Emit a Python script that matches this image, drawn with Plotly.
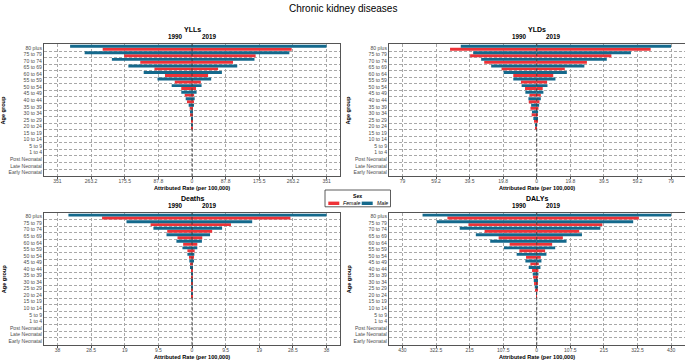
import plotly.graph_objects as go

# ---------------- data (age groups listed top -> bottom) ----------------
age_groups = ["80 plus", "75 to 79", "70 to 74", "65 to 69", "60 to 64", "55 to 59",
              "50 to 54", "45 to 49", "40 to 44", "35 to 39", "30 to 34", "25 to 29",
              "20 to 24", "15 to 19", "10 to 14", "5 to 9", "1 to 4",
              "Post Neonatal", "Late Neonatal", "Early Neonatal"]

ylls_male_1990 = [318, 280, 209, 166, 126, 90, 53, 28, 16.5, 8.7, 5, 2.6, 1, 0, 0, 0, 0, 0, 0, 0]
ylls_male_2019 = [351, 254, 163, 118, 78, 50, 25, 12, 7, 3.5, 1.7, 1, 0.5, 0, 0, 0, 0, 0, 0, 0]
ylls_female_1990 = [233, 177, 135, 98, 70.5, 45, 28, 19, 13, 6, 3.5, 2, 0.8, 0, 0, 0, 0, 0, 0, 0]
ylls_female_2019 = [260, 166, 107, 68, 42, 23, 10.5, 5.5, 3.5, 2.6, 1.7, 1, 0.4, 0, 0, 0, 0, 0, 0, 0]

ylds_male_1990 = [44.7, 37.4, 32.7, 26.8, 19.5, 13.8, 8.9, 6.7, 4.9, 3.3, 2.8, 2.0, 0.6, 0, 0, 0, 0, 0, 0, 0]
ylds_male_2019 = [79, 55.4, 41.2, 28, 17.7, 11, 6.3, 3.9, 2.4, 1.4, 0.8, 0.3, 0.1, 0, 0, 0, 0, 0, 0, 0]
ylds_female_1990 = [51, 39.2, 30.9, 20.7, 13.8, 9.3, 6.9, 4.3, 4.7, 3.7, 3.0, 1.6, 0.5, 0, 0, 0, 0, 0, 0, 0]
ylds_female_2019 = [67, 43.9, 29.5, 16.5, 9.7, 6.1, 3.5, 2.4, 1.6, 1.0, 0.6, 0.3, 0.1, 0, 0, 0, 0, 0, 0, 0]

deaths_male_1990 = [34.9, 18.5, 10.9, 7.2, 4.4, 2.7, 1.3, 0.75, 0.38, 0.2, 0.12, 0.07, 0.04, 0, 0, 0, 0, 0, 0, 0]
deaths_male_2019 = [38, 17, 8.5, 5.1, 2.8, 1.5, 0.66, 0.38, 0.19, 0.1, 0.06, 0.04, 0.02, 0, 0, 0, 0, 0, 0, 0]
deaths_female_1990 = [25.4, 11.7, 7.0, 4.1, 2.5, 1.3, 0.85, 0.47, 0.25, 0.15, 0.1, 0.06, 0.03, 0, 0, 0, 0, 0, 0, 0]
deaths_female_2019 = [27.8, 11.0, 5.7, 2.9, 1.5, 0.75, 0.38, 0.19, 0.1, 0.07, 0.05, 0.03, 0.02, 0, 0, 0, 0, 0, 0, 0]

dalys_male_1990 = [365.6, 320.5, 246.6, 195, 149, 105, 64.3, 36.4, 25.7, 12.9, 9.6, 6.4, 2, 0, 0, 0, 0, 0, 0, 0]
dalys_male_2019 = [430, 308.7, 203.7, 144.7, 95.4, 59, 31, 15, 11.8, 5.4, 3.2, 1, 0.5, 0, 0, 0, 0, 0, 0, 0]
dalys_female_1990 = [286, 218.7, 167, 122, 86.8, 55.7, 34.3, 20.4, 15, 11.8, 8.6, 5.4, 1.5, 0, 0, 0, 0, 0, 0, 0]
dalys_female_2019 = [327, 210, 136, 83.6, 49.3, 26.8, 12.9, 6.4, 5.4, 4.3, 2.1, 1, 0.5, 0, 0, 0, 0, 0, 0, 0]

panel_titles = ["YLLs", "YLDs", "Deaths", "DALYs"]
axis_max = [351, 79, 38, 430]
tick_labels = [
    ["351", "263.2", "175.5", "87.8", "0", "87.8", "175.5", "263.2", "351"],
    ["79", "59.2", "39.5", "19.8", "0", "19.8", "39.5", "59.2", "79"],
    ["38", "28.5", "19", "9.5", "0", "9.5", "19", "28.5", "38"],
    ["430", "322.5", "215", "107.5", "0", "107.5", "215", "322.5", "430"],
]
year_labels = ["1990", "2019"]
sex_labels = ["Female", "Male"]

series = [
    (ylls_female_1990, ylls_male_1990, ylls_female_2019, ylls_male_2019),
    (ylds_female_1990, ylds_male_1990, ylds_female_2019, ylds_male_2019),
    (deaths_female_1990, deaths_male_1990, deaths_female_2019, deaths_male_2019),
    (dalys_female_1990, dalys_male_1990, dalys_female_2019, dalys_male_2019),
]

# ---------------- style ----------------
W, H = 685, 360
RED = "#EE3338"
TEAL = "#14698C"
FONT = "Liberation Sans, Arial, sans-serif"
GRID = "#A8A8A8"
TICKC = "#4D4D4D"
DASH = "3px,2px"


def px(x):
    return x / W


def py(y):
    return 1 - y / H


# panel plot-area boxes in pixels: (left, right, top, bottom)
boxes = [(44, 340, 43.8, 176.3), (389, 684.5, 43.8, 176.3),
         (44, 340, 212.7, 344.8), (389, 684.5, 212.7, 344.8)]

fig = go.Figure()
layout = dict(width=W, height=H, margin=dict(l=0, r=0, t=0, b=0, autoexpand=False),
              paper_bgcolor="white", plot_bgcolor="white",
              barmode="group", bargap=0.1, bargroupgap=0,
              showlegend=False, font=dict(family=FONT))

annotations = []
shapes = []

for i, (title, mx, tl, s, box) in enumerate(zip(panel_titles, axis_max, tick_labels, series, boxes)):
    n = i + 1
    xa = "x" if n == 1 else f"x{n}"
    ya = "y" if n == 1 else f"y{n}"
    f90, m90, f19, m19 = s
    for vals, col, grp, sign in [(f90, RED, "F", -1), (m90, TEAL, "M", -1),
                                 (f19, RED, "F", 1), (m19, TEAL, "M", 1)]:
        fig.add_trace(go.Bar(y=age_groups, x=[sign * v for v in vals], orientation="h",
                             marker=dict(color=col, line=dict(width=0)),
                             offsetgroup=grp, xaxis=xa, yaxis=ya, hoverinfo="skip"))
    l, r, t, b = box
    rng = mx * 1.1
    tickvals = [mx * k for k in (-1, -0.75, -0.5, -0.25, 0, 0.25, 0.5, 0.75, 1)]
    layout["xaxis" if n == 1 else f"xaxis{n}"] = dict(
        domain=[px(l), px(r)], anchor=ya, range=[-rng, rng],
        tickmode="array", tickvals=tickvals, ticktext=tl,
        showgrid=True, gridcolor=GRID, griddash=DASH, gridwidth=0.7,
        zeroline=False, showline=True, mirror=True, linecolor="#555555", linewidth=1,
        ticks="outside", ticklen=2, tickwidth=0.6, tickcolor=TICKC, ticklabelstandoff=-2,
        tickfont=dict(size=5, color=TICKC, family=FONT), fixedrange=True)
    layout["yaxis" if n == 1 else f"yaxis{n}"] = dict(
        domain=[py(b), py(t)], anchor=xa, type="category",
        categoryorder="array", categoryarray=age_groups[::-1],
        tickmode="array", tickvals=age_groups, ticktext=age_groups,
        range=[-0.6, len(age_groups) - 0.4], tickson="boundaries",
        showgrid=True, gridcolor=GRID, griddash=DASH, gridwidth=0.7,
        zeroline=False, showline=True, mirror=True, linecolor="#555555", linewidth=1,
        ticks="", tickfont=dict(size=5.1, color=TICKC, family=FONT), fixedrange=True)

    cx0 = (l + r) / 2
    # zero reference line
    shapes.append(dict(type="line", xref=xa, yref=f"{ya} domain", x0=0, x1=0, y0=0, y1=1,
                       line=dict(color="#3A3A3A", width=0.9, dash=DASH), layer="above"))
    # titles
    annotations.append(dict(text=f"<b>{title}</b>", x=px(cx0), y=py(t - 14.5), xref="paper", yref="paper",
                            showarrow=False, font=dict(size=7, color="black", family=FONT),
                            xanchor="center", yanchor="middle"))
    annotations.append(dict(text=f"<b>{year_labels[0]}</b>", x=px(cx0 - 17), y=py(t - 7), xref="paper",
                            yref="paper", showarrow=False, font=dict(size=6.3, color="black", family=FONT),
                            xanchor="center", yanchor="middle"))
    annotations.append(dict(text=f"<b>{year_labels[1]}</b>", x=px(cx0 + 17), y=py(t - 7), xref="paper",
                            yref="paper", showarrow=False, font=dict(size=6.3, color="black", family=FONT),
                            xanchor="center", yanchor="middle"))
    annotations.append(dict(text="<b>Attributed Rate (per 100,000)</b>", x=px(cx0), y=py(b + 11.8),
                            xref="paper", yref="paper", showarrow=False,
                            font=dict(size=5.6, color="black", family=FONT),
                            xanchor="center", yanchor="middle"))
    annotations.append(dict(text="<b>Age group</b>", x=px(l - 40.5), y=py((t + b) / 2), xref="paper",
                            yref="paper", showarrow=False, textangle=-90,
                            font=dict(size=5.6, color="black", family=FONT),
                            xanchor="center", yanchor="middle"))

# main title
annotations.append(dict(text="Chronic kidney diseases", x=px(342.5), y=py(8), xref="paper", yref="paper",
                        showarrow=False, font=dict(size=10, color="black", family=FONT),
                        xanchor="center", yanchor="middle"))

# manual legend
shapes.append(dict(type="rect", xref="paper", yref="paper", x0=px(325), x1=px(390.5), y0=py(206.8), y1=py(190),
                   line=dict(color="#333333", width=0.8), fillcolor="white", layer="above"))
shapes.append(dict(type="rect", xref="paper", yref="paper", x0=px(328.3), x1=px(339.3), y0=py(205), y1=py(201.6),
                   line=dict(width=0), fillcolor=RED, layer="above"))
shapes.append(dict(type="rect", xref="paper", yref="paper", x0=px(361.7), x1=px(372.7), y0=py(205), y1=py(201.6),
                   line=dict(width=0), fillcolor=TEAL, layer="above"))
annotations.append(dict(text="<b>Sex</b>", x=px(357.7), y=py(195.8), xref="paper", yref="paper",
                        showarrow=False, font=dict(size=5.2, color="black", family=FONT),
                        xanchor="center", yanchor="middle"))
annotations.append(dict(text=f"<i>{sex_labels[0]}</i>", x=px(341), y=py(203.3), xref="paper", yref="paper",
                        showarrow=False, font=dict(size=5.2, color="black", family=FONT),
                        xanchor="left", yanchor="middle"))
annotations.append(dict(text=f"<i>{sex_labels[1]}</i>", x=px(374.5), y=py(203.3), xref="paper", yref="paper",
                        showarrow=False, font=dict(size=5.2, color="black", family=FONT),
                        xanchor="left", yanchor="middle"))

layout["annotations"] = annotations
layout["shapes"] = shapes
fig.update_layout(**layout)
fig.write_html("out.html", config={"displayModeBar": False},
               post_script="document.body.style.margin='0px';document.body.style.padding='0px';"
                           "document.body.style.overflow='hidden';")
